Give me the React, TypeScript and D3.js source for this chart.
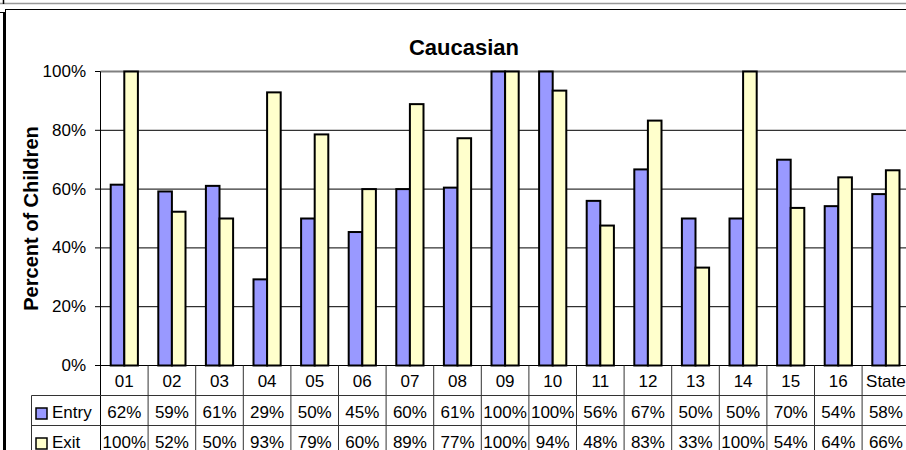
import React from "react";
import * as d3 from "d3";

const categories = ["01","02","03","04","05","06","07","08","09","10","11","12","13","14","15","16","State"];
const entryValues = [61.5,59.2,61.1,29.3,50,45.4,60,60.5,100,100,56,66.7,50,50,70,54.2,58.3];
const exitValues = [100,52.3,50,92.9,78.6,60,88.9,77.3,100,93.5,47.6,83.3,33.3,100,53.6,64,66.4];
const yTicks = [0,20,40,60,80,100];
const seriesNames = ["Entry","Exit"];
const seriesColors = ["#9999FF","#FFFFCC"];
const titleText = "Caucasian";
const yAxisTitle = "Percent of Children";

const W = 906, H = 450;
const FONT = "Arial, 'Liberation Sans', Helvetica, sans-serif";

export default function App() {
  const left = 100.5;
  const bandW = 47.6;
  const x = d3.scaleBand<string>().domain(categories).range([left, left + categories.length * bandW]).paddingInner(0).paddingOuter(0);
  const y = d3.scaleLinear().domain([0, 100]).range([365.5, 71.5]);
  const barW = bandW / 3.5;
  const gap = (bandW - 2 * barW) / 2;
  const right = left + categories.length * bandW;
  const fmt = (v: number) => `${Math.round(v)}%`;
  const rowBase = [387, 417.5, 447.5];
  const series = [entryValues, exitValues];

  return (
    <div style={{ position: "fixed", left: 0, top: 0, width: W, height: H, background: "#fff" }}>
      <svg width={W} height={H} style={{ display: "block", fontFamily: FONT }}>
        <rect x={0} y={0} width={W} height={H} fill="#fff" />
        {/* outer frames */}
        <line x1={0} x2={W} y1={3.5} y2={3.5} stroke="#999" strokeWidth={1.5} />
        <line x1={3.5} x2={3.5} y1={0} y2={4} stroke="#000" strokeWidth={1.5} />
        <line x1={5} x2={W} y1={9.5} y2={9.5} stroke="#000" strokeWidth={1} />
        <line x1={5.5} x2={5.5} y1={9.5} y2={H} stroke="#000" strokeWidth={1} />
        <line x1={4} x2={4} y1={12} y2={H} stroke="#000" strokeWidth={2} />
        <line x1={0} x2={5} y1={12.5} y2={12.5} stroke="#000" strokeWidth={1} />

        {/* title */}
        <text x={464} y={55} textAnchor="middle" fontSize={22} fontWeight="bold">{titleText}</text>
        <text transform={`translate(30.5,218.5) rotate(-90)`} textAnchor="middle" dominantBaseline="central" fontSize={20} fontWeight="bold">{yAxisTitle}</text>

        {/* gridlines */}
        {yTicks.filter(t => t > 0 && t < 100).map(t => (
          <line key={t} x1={left} x2={right} y1={y(t)} y2={y(t)} stroke="#000" strokeWidth={1} />
        ))}
        <line x1={left} x2={right} y1={y(100)} y2={y(100)} stroke="#808080" strokeWidth={2} />

        {/* y ticks */}
        {yTicks.map(t => (
          <g key={t}>
            <line x1={95} x2={left} y1={y(t)} y2={y(t)} stroke="#000" strokeWidth={1} />
            <text x={86} y={y(t)} textAnchor="end" dominantBaseline="central" fontSize={17}>{t}%</text>
          </g>
        ))}

        {/* bars */}
        {series.map((vals, si) => vals.map((v, i) => {
          const x0 = (x(categories[i]) as number) + gap + si * barW;
          return (
            <rect key={`${si}-${i}`} x={x0} y={y(v)} width={barW} height={y(0) - y(v)}
              fill={seriesColors[si]} stroke="#000" strokeWidth={2} />
          );
        }))}

        {/* axes */}
        <line x1={left} x2={left} y1={y(100)} y2={H} stroke="#000" strokeWidth={1} />
        <line x1={left} x2={right} y1={y(0)} y2={y(0)} stroke="#000" strokeWidth={1} />

        {/* data table */}
        {categories.map((c, i) => (
          <line key={`v${i}`} x1={(x(c) as number) + bandW} x2={(x(c) as number) + bandW} y1={y(0)} y2={H} stroke="#333" strokeWidth={1} />
        ))}
        <line x1={31.5} x2={right} y1={395.5} y2={395.5} stroke="#333" strokeWidth={1} />
        <line x1={31.5} x2={right} y1={425.5} y2={425.5} stroke="#333" strokeWidth={1} />
        <line x1={31.5} x2={31.5} y1={395.5} y2={H} stroke="#333" strokeWidth={1} />

        {categories.map((c, i) => (
          <text key={`c${i}`} x={(x(c) as number) + bandW / 2} y={rowBase[0]} textAnchor="middle" fontSize={17}>{c}</text>
        ))}
        {series.map((vals, si) => vals.map((v, i) => (
          <text key={`t${si}-${i}`} x={(x(categories[i]) as number) + bandW / 2} y={rowBase[si + 1]} textAnchor="middle" fontSize={17}>{fmt(v)}</text>
        )))}
        {seriesNames.map((n, si) => (
          <g key={n}>
            <rect x={36} y={rowBase[si + 1] - 9.5} width={11} height={11} fill={seriesColors[si]} stroke="#000" strokeWidth={1.5} />
            <text x={52} y={rowBase[si + 1]} fontSize={17}>{n}</text>
          </g>
        ))}
      </svg>
    </div>
  );
}
